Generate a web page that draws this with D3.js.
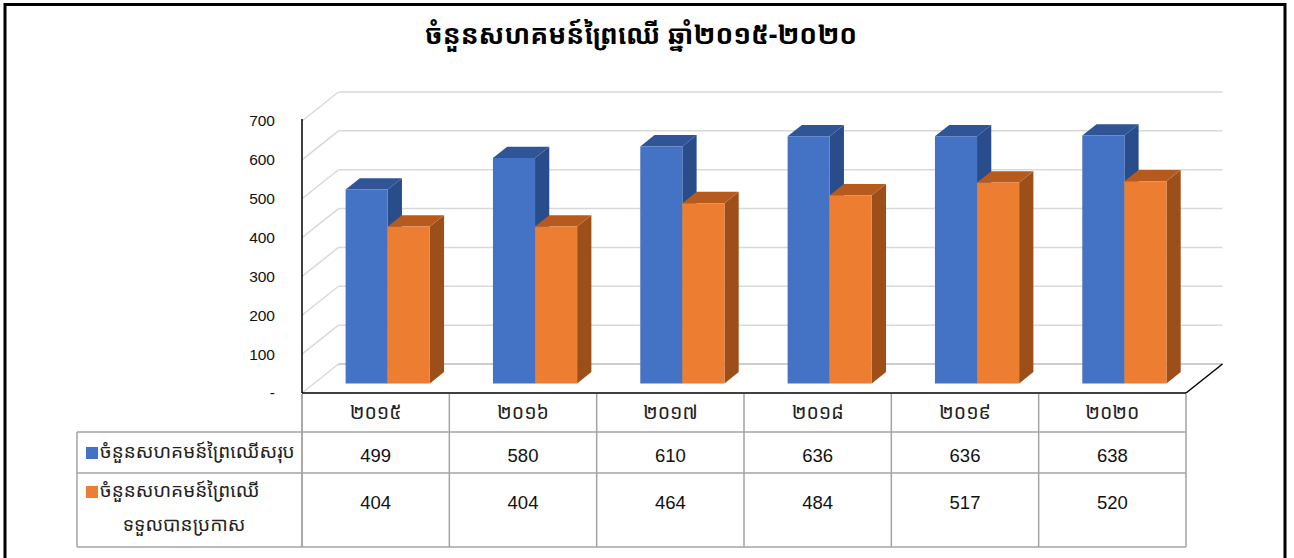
<!DOCTYPE html>
<html>
<head>
<meta charset="utf-8">
<script src="https://cdn.jsdelivr.net/npm/d3@7"></script>
<style>
  html, body { margin: 0; padding: 0; background: #fff; }
  svg { display: block; }
  .khmer { font-family: "Khmer OS", "Khmer OS System", "Noto Sans Khmer", "Khmer UI", "Leelawadee UI", "DejaVu Sans", sans-serif; }
  .latin { font-family: "Liberation Sans", Arial, sans-serif; }
</style>
</head>
<body>
<svg id="chart" width="1294" height="558"></svg>
<script>
// ---- data -------------------------------------------------------------
const chartTitle = "ចំនួនសហគមន៍ព្រៃឈើ ឆ្នាំ២០១៥-២០២០";
const years = ["២០១៥", "២០១៦", "២០១៧", "២០១៨", "២០១៩", "២០២០"];
const seriesKeys = ["total", "declared"];
const seriesLabelLines = [
  ["ចំនួនសហគមន៍ព្រៃឈើសរុប"],
  ["ចំនួនសហគមន៍ព្រៃឈើ", "ទទួលបានប្រកាស"]
];
const totalCommunities = [499, 580, 610, 636, 636, 638];
const declaredCommunities = [404, 404, 464, 484, 517, 520];
const yTicks = [0, 100, 200, 300, 400, 500, 600, 700];

// ---- layout ------------------------------------------------------------
const svg = d3.select("#chart");
const plotLeft = 302, plotRight = 1186;
const floorY = 393, topY = 121;
const DX = 36.5, DY = 29;           // depth offset of the back wall
const zFront = 0.33, zBack = 0.72;  // depth span of the columns

const colors = {
  total:    { front: "#4472C4", top: "#2F5597", side: "#294C8A" },
  declared: { front: "#ED7D31", top: "#B65B1D", side: "#9D4F19" }
};

const x0 = d3.scaleBand().domain(years).range([plotLeft, plotRight]).padding(0);
const x1 = d3.scaleBand().domain(seriesKeys).range([0, x0.bandwidth()])
  .paddingInner(0).paddingOuter(0.75);
const y = d3.scaleLinear().domain([0, 700]).range([floorY, topY]);

// oblique projection: floor x, value, depth -> screen
const P = (x, v, z) => [x + z * DX, y(v) - z * DY];

const rows = years.map((yr, i) => ({
  year: yr,
  total: totalCommunities[i],
  declared: declaredCommunities[i]
}));

// ---- outer frame -------------------------------------------------------
svg.append("rect")
  .attr("x", 5).attr("y", 4.5).attr("width", 1280).attr("height", 600)
  .attr("fill", "none").attr("stroke", "#000").attr("stroke-width", 3);

// ---- title -------------------------------------------------------------
svg.append("text")
  .attr("class", "khmer")
  .attr("x", 641).attr("y", 44)
  .attr("text-anchor", "middle")
  .attr("font-size", 26.5).attr("font-weight", "bold").attr("fill", "#000")
  .text(chartTitle);

// ---- walls & gridlines -------------------------------------------------
const grid = svg.append("g");
yTicks.forEach(v => {
  const a = P(plotLeft, v, 0), b = P(plotLeft, v, 1), c = P(plotRight, v, 1);
  grid.append("line")
    .attr("x1", a[0]).attr("y1", a[1]).attr("x2", b[0]).attr("y2", b[1])
    .attr("stroke", "#d9d9d9").attr("stroke-width", 1.5);
  grid.append("line")
    .attr("x1", b[0]).attr("y1", b[1]).attr("x2", c[0]).attr("y2", c[1])
    .attr("stroke", v === 0 ? "#bdbdbd" : "#d9d9d9").attr("stroke-width", 1.5);
});
// floor right edge and front edge
{
  const fr = P(plotRight, 0, 0), br = P(plotRight, 0, 1);
  svg.append("line")
    .attr("x1", fr[0]).attr("y1", fr[1]).attr("x2", br[0]).attr("y2", br[1])
    .attr("stroke", "#000").attr("stroke-width", 1.5);
  svg.append("line")
    .attr("x1", plotLeft).attr("y1", floorY).attr("x2", plotRight).attr("y2", floorY)
    .attr("stroke", "#000").attr("stroke-width", 1.5);
}

// ---- value axis --------------------------------------------------------
const yAxis = d3.axisLeft(y)
  .tickValues(yTicks)
  .tickSize(0)
  .tickPadding(27)
  .tickFormat(d => d === 0 ? "-" : d);
const axisG = svg.append("g")
  .attr("transform", `translate(${plotLeft},0)`)
  .call(yAxis);
axisG.select(".domain").remove();
axisG.selectAll("text")
  .attr("class", "latin")
  .attr("font-size", 15.5)
  .attr("fill", "#111");
svg.append("line")
  .attr("x1", plotLeft).attr("y1", y(700) - 2).attr("x2", plotLeft).attr("y2", floorY)
  .attr("stroke", "#000").attr("stroke-width", 1.5);

// ---- 3D columns --------------------------------------------------------
const bars = svg.append("g");
rows.forEach(r => {
  seriesKeys.forEach(k => {
    const xl = x0(r.year) + x1(k);
    const xr = xl + x1.bandwidth();
    const v = r[k];
    const c = colors[k];
    const ftl = P(xl, v, zFront), ftr = P(xr, v, zFront);
    const fbl = P(xl, 0, zFront), fbr = P(xr, 0, zFront);
    const btl = P(xl, v, zBack), btr = P(xr, v, zBack), bbr = P(xr, 0, zBack);
    const g = bars.append("g");
    g.append("polygon")
      .attr("points", [ftr, btr, bbr, fbr].map(p => p.join(",")).join(" "))
      .attr("fill", c.side);
    g.append("polygon")
      .attr("points", [ftl, ftr, btr, btl].map(p => p.join(",")).join(" "))
      .attr("fill", c.top);
    g.append("polygon")
      .attr("points", [ftl, ftr, fbr, fbl].map(p => p.join(",")).join(" "))
      .attr("fill", c.front);
  });
});

// ---- data table --------------------------------------------------------
const tableLeft = 77;
const rowEdges = [floorY, 432, 473, 547];
const lineColor = "#a3a3a3";
const table = svg.append("g");

// column separators
years.concat(["end"]).forEach((yr, i) => {
  const xx = i < years.length ? x0(yr) : plotRight;
  table.append("line")
    .attr("x1", xx).attr("y1", floorY + 1).attr("x2", xx).attr("y2", rowEdges[3])
    .attr("stroke", i === 0 ? "#8c8c8c" : lineColor).attr("stroke-width", 1.5);
});
// horizontal rules
[rowEdges[1], rowEdges[2], rowEdges[3]].forEach(yy => {
  table.append("line")
    .attr("x1", tableLeft).attr("y1", yy).attr("x2", plotRight).attr("y2", yy)
    .attr("stroke", lineColor).attr("stroke-width", 1.5);
});
table.append("line")
  .attr("x1", tableLeft).attr("y1", rowEdges[1]).attr("x2", tableLeft).attr("y2", rowEdges[3])
  .attr("stroke", lineColor).attr("stroke-width", 1.5);

// year header
table.selectAll("text.year").data(years).enter().append("text")
  .attr("class", "khmer year")
  .attr("x", d => x0(d) + x0.bandwidth() / 2)
  .attr("y", 419)
  .attr("text-anchor", "middle")
  .attr("font-size", 19.5).attr("fill", "#222")
  .text(d => d);

// values
const valueRowY = { total: 462, declared: 509 };
seriesKeys.forEach(k => {
  table.selectAll(`text.v-${k}`).data(rows).enter().append("text")
    .attr("class", `latin v-${k}`)
    .attr("x", d => x0(d.year) + x0.bandwidth() / 2)
    .attr("y", valueRowY[k])
    .attr("text-anchor", "middle")
    .attr("font-size", 18.5).attr("fill", "#111")
    .text(d => d[k]);
});

// legend keys
const legendSpec = [
  { key: "total", sqY: 447, lineY: [458] },
  { key: "declared", sqY: 486, lineY: [497, 531] }
];
legendSpec.forEach((s, i) => {
  table.append("rect")
    .attr("x", 86).attr("y", s.sqY).attr("width", 12).attr("height", 12)
    .attr("fill", colors[s.key].front);
  seriesLabelLines[i].forEach((line, j) => {
    table.append("text")
      .attr("class", "khmer")
      .attr("x", j === 0 ? 100 : 184)
      .attr("y", s.lineY[j])
      .attr("text-anchor", j === 0 ? "start" : "middle")
      .attr("font-size", 19).attr("fill", "#222")
      .text(line);
  });
});
</script>
</body>
</html>
